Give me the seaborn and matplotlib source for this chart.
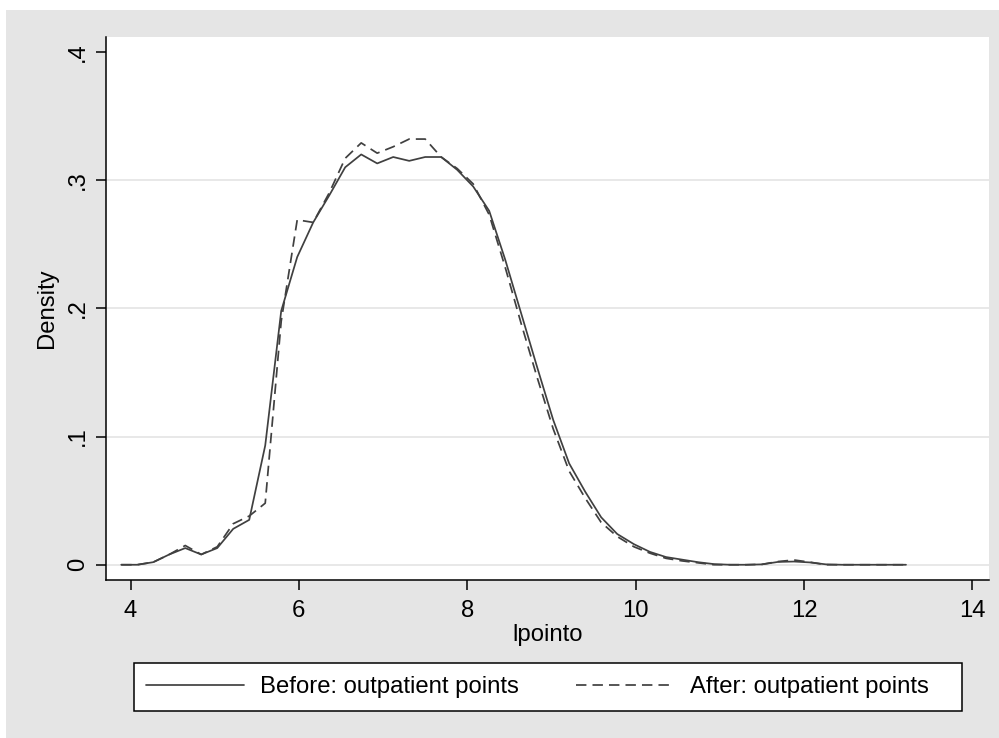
import numpy as np
import pandas as pd
import matplotlib
matplotlib.use("Agg")
import matplotlib.pyplot as plt
import seaborn as sns
from matplotlib.patches import Rectangle
from matplotlib.lines import Line2D

# ---- data ----
x_grid = [3.89, 4.08, 4.27, 4.46, 4.65, 4.84, 5.03, 5.22, 5.41, 5.60,
          5.79, 5.98, 6.17, 6.36, 6.55, 6.74, 6.93, 7.12, 7.31, 7.50,
          7.69, 7.88, 8.07, 8.26, 8.45, 8.64, 8.83, 9.02, 9.21, 9.40,
          9.59, 9.78, 9.98, 10.17, 10.36, 10.55, 10.74, 10.93, 11.12, 11.31,
          11.50, 11.69, 11.88, 12.07, 12.26, 12.45, 12.64, 12.83, 13.02, 13.21]
before = [0.000, 0.000, 0.002, 0.008, 0.013, 0.008, 0.013, 0.028, 0.035, 0.093,
          0.198, 0.240, 0.267, 0.288, 0.310, 0.320, 0.313, 0.318, 0.315, 0.318,
          0.318, 0.308, 0.295, 0.276, 0.238, 0.196, 0.154, 0.113, 0.079, 0.057,
          0.037, 0.024, 0.016, 0.010, 0.006, 0.004, 0.002, 0.0005, 0.000, 0.000,
          0.0003, 0.0022, 0.0025, 0.0018, 0.0003, 0.000, 0.000, 0.000, 0.000, 0.000]
after = [0.000, 0.000, 0.002, 0.008, 0.015, 0.008, 0.014, 0.032, 0.038, 0.048,
         0.190, 0.269, 0.267, 0.290, 0.317, 0.329, 0.321, 0.326, 0.332, 0.332,
         0.318, 0.309, 0.297, 0.273, 0.232, 0.188, 0.146, 0.106, 0.073, 0.052,
         0.033, 0.022, 0.014, 0.009, 0.005, 0.003, 0.0015, 0.000, 0.000, 0.000,
         0.0003, 0.0025, 0.0037, 0.002, 0.000, 0.000, 0.000, 0.000, 0.000, 0.000]
series_names = ["Before: outpatient points", "After: outpatient points"]
x_ticks = [4, 6, 8, 10, 12, 14]
y_ticks = [0, 0.1, 0.2, 0.3, 0.4]
y_ticklabels = ["0", ".1", ".2", ".3", ".4"]
x_label = "lpointo"
y_label = "Density"

df = pd.DataFrame({
    "x": x_grid * 2,
    "density": before + after,
    "series": [series_names[0]] * len(x_grid) + [series_names[1]] * len(x_grid),
})

sns.set_theme(style="white")
plt.rcParams["font.family"] = ["Liberation Sans", "DejaVu Sans"]

W, H = 999, 738
fig = plt.figure(figsize=(W / 100, H / 100), dpi=100)
fig.patch.set_facecolor("white")
bg = "#e5e5e5"
fig.patches.append(Rectangle((6 / W, 0), 1 - 6 / W, 1 - 10 / H,
                             transform=fig.transFigure, facecolor=bg,
                             edgecolor="none", zorder=-10))
# legend box (drawn as a figure patch so its size matches the reference)
fig.patches.append(Rectangle((134 / W, 1 - 711 / H), (962 - 134) / W, 48 / H,
                             transform=fig.transFigure, facecolor="white",
                             edgecolor="black", linewidth=1.1, zorder=2))

ax = fig.add_axes([106 / W, 1 - 580 / H, (989 - 106) / W, (580 - 37) / H])
ax.set_zorder(1)
ax.set_facecolor("white")

line_color = "#404040"
lw = 1.25
dash = (6, 3.5)
sns.lineplot(data=df, x="x", y="density", style="series",
             dashes={series_names[0]: "", series_names[1]: dash},
             color=line_color, linewidth=lw, legend=False, ax=ax,
             estimator=None, sort=False)

ax.set_xlim(3.709, 14.196)
ax.set_ylim(-0.0119, 0.4116)
ax.set_xticks(x_ticks)
ax.set_xticklabels([str(t) for t in x_ticks])
ax.set_yticks(y_ticks)
ax.set_yticklabels(y_ticklabels, rotation=90, va="center")

fs = 17.2
ax.tick_params(axis="both", which="major", length=7.5, width=1.1,
               color="black", labelsize=fs, labelcolor="black",
               direction="out", bottom=True, left=True)
ax.tick_params(axis="y", pad=5)
ax.tick_params(axis="x", pad=7)

ax.yaxis.grid(True, color="#e6e6e6", linewidth=1.3)
ax.xaxis.grid(False)
ax.set_axisbelow(True)
ax.yaxis.get_gridlines()[-1].set_visible(False)

for s in ["top", "right"]:
    ax.spines[s].set_visible(False)
for s in ["left", "bottom"]:
    ax.spines[s].set_visible(True)
    ax.spines[s].set_color("black")
    ax.spines[s].set_linewidth(1.1)

ax.set_xlabel(x_label, fontsize=fs, color="black", labelpad=1.5)
ax.set_ylabel(y_label, fontsize=fs, color="black", labelpad=6)

handles = [Line2D([0], [0], color=line_color, lw=lw),
           Line2D([0], [0], color=line_color, lw=lw, dashes=dash)]
leg = fig.legend(handles, series_names, loc="center", ncol=2,
                 bbox_to_anchor=(537.5 / W, 1 - 687 / H),
                 fontsize=fs, frameon=False,
                 handlelength=4.1, handletextpad=0.68, columnspacing=2.4,
                 borderaxespad=0, borderpad=0.0)
leg.set_zorder(5)
for t in leg.get_texts():
    t.set_color("black")

fig.savefig("out.png", dpi=100, facecolor=fig.get_facecolor())
